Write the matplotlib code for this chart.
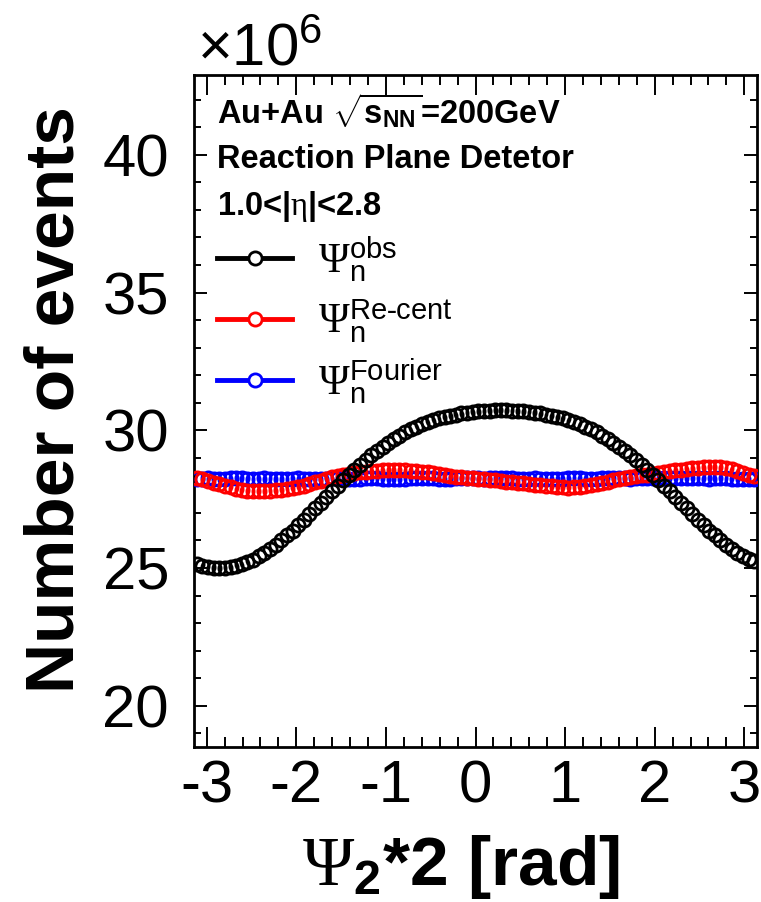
import matplotlib
matplotlib.use("Agg")
import matplotlib.pyplot as plt
import numpy as np
from matplotlib.ticker import MultipleLocator
from matplotlib.lines import Line2D

plt.rcParams["font.family"] = ["Liberation Sans", "DejaVu Sans"]
plt.rcParams["mathtext.fontset"] = "custom"
plt.rcParams["mathtext.rm"] = "Liberation Serif"
plt.rcParams["mathtext.sf"] = "Liberation Sans"
plt.rcParams["mathtext.bf"] = "Liberation Sans:bold"
plt.rcParams["mathtext.it"] = "Liberation Serif:italic"
plt.rcParams["axes.unicode_minus"] = False

# 100 bins in Psi_2*2 from -pi to pi, counts in units of 10^6
n_bins = 100

psi_obs = [25.16, 25.08, 25.03, 25.00, 24.99, 25.00, 25.03, 25.07, 25.13, 25.21,
           25.30, 25.42, 25.54, 25.69, 25.84, 26.00, 26.18, 26.36, 26.56, 26.75,
           26.95, 27.16, 27.36, 27.57, 27.78, 27.98, 28.18, 28.38, 28.57, 28.75,
           28.93, 29.10, 29.26, 29.41, 29.55, 29.68, 29.81, 29.92, 30.03, 30.13,
           30.21, 30.29, 30.36, 30.43, 30.48, 30.53, 30.57, 30.61, 30.64, 30.67,
           30.69, 30.70, 30.71, 30.72, 30.72, 30.72, 30.71, 30.70, 30.69, 30.67,
           30.64, 30.61, 30.57, 30.53, 30.48, 30.43, 30.36, 30.29, 30.21, 30.13,
           30.03, 29.92, 29.81, 29.68, 29.55, 29.41, 29.26, 29.10, 28.93, 28.75,
           28.57, 28.38, 28.18, 27.98, 27.78, 27.57, 27.36, 27.16, 26.95, 26.75,
           26.56, 26.36, 26.18, 26.00, 25.84, 25.69, 25.55, 25.44, 25.34, 25.27]

psi_recent = [28.27, 28.22, 28.16, 28.10, 28.04, 27.98, 27.93, 27.88, 27.84, 27.81,
              27.80, 27.79, 27.79, 27.80, 27.82, 27.84, 27.87, 27.90, 27.94, 27.99,
              28.05, 28.11, 28.17, 28.23, 28.29, 28.34, 28.38, 28.42, 28.45, 28.48,
              28.50, 28.52, 28.53, 28.54, 28.55, 28.55, 28.55, 28.54, 28.53, 28.51,
              28.49, 28.47, 28.44, 28.41, 28.38, 28.35, 28.32, 28.29, 28.27, 28.25,
              28.24, 28.22, 28.20, 28.18, 28.16, 28.14, 28.12, 28.10, 28.08, 28.06,
              28.03, 28.00, 27.98, 27.96, 27.94, 27.93, 27.92, 27.93, 27.94, 27.96,
              28.00, 28.04, 28.09, 28.14, 28.18, 28.22, 28.26, 28.30, 28.33, 28.36,
              28.39, 28.42, 28.45, 28.48, 28.51, 28.54, 28.57, 28.60, 28.62, 28.64,
              28.66, 28.67, 28.67, 28.66, 28.63, 28.59, 28.53, 28.46, 28.39, 28.33]

psi_fourier = [28.23, 28.24, 28.25, 28.24, 28.23, 28.24, 28.25, 28.26, 28.25, 28.24,
               28.23, 28.24, 28.25, 28.24, 28.23, 28.22, 28.23, 28.24, 28.25, 28.24,
               28.23, 28.22, 28.23, 28.24, 28.25, 28.26, 28.25, 28.24, 28.23, 28.24,
               28.25, 28.26, 28.25, 28.24, 28.23, 28.22, 28.23, 28.24, 28.25, 28.26,
               28.27, 28.26, 28.25, 28.24, 28.23, 28.24, 28.25, 28.26, 28.27, 28.26,
               28.25, 28.24, 28.25, 28.26, 28.27, 28.26, 28.25, 28.24, 28.23, 28.24,
               28.25, 28.24, 28.23, 28.22, 28.23, 28.24, 28.25, 28.26, 28.25, 28.24,
               28.23, 28.24, 28.25, 28.26, 28.27, 28.26, 28.25, 28.24, 28.25, 28.26,
               28.27, 28.28, 28.27, 28.26, 28.25, 28.26, 28.27, 28.28, 28.27, 28.26,
               28.25, 28.24, 28.25, 28.26, 28.25, 28.24, 28.23, 28.24, 28.23, 28.22]

labels = [r"$\Psi_{\mathsf{n}}^{\mathsf{obs}}$",
          r"$\Psi_{\mathsf{n}}^{\mathsf{Re\text{-}cent}}$",
          r"$\Psi_{\mathsf{n}}^{\mathsf{Fourier}}$"]
colors = ["black", "red", "blue"]

edges = np.linspace(-np.pi, np.pi, n_bins + 1)
centers = 0.5 * (edges[:-1] + edges[1:])

fig = plt.figure(figsize=(7.61, 9.02), dpi=100)
ax = fig.add_axes([194 / 761, 1 - 747 / 902, 563 / 761, 672 / 902])

series = [psi_obs, psi_recent, psi_fourier]
zs = [5, 4, 3]
for vals, c, z in zip(series, colors, zs):
    ax.plot(centers, vals, ls="none", marker="o", ms=9.5, mfc="none",
            mec=c, mew=2.0, zorder=z)

ax.set_xlim(-np.pi, np.pi)
ax.set_ylim(18.5, 42.9)

ax.xaxis.set_major_locator(MultipleLocator(1))
ax.xaxis.set_minor_locator(MultipleLocator(0.2))
ax.yaxis.set_major_locator(MultipleLocator(5))
ax.yaxis.set_minor_locator(MultipleLocator(1))
ax.tick_params(axis="both", which="both", direction="in", top=True, right=True,
               width=1.4, color="black")
ax.tick_params(axis="x", which="major", length=14.5, pad=9, labelsize=43)
ax.tick_params(axis="x", which="minor", length=7.5)
ax.tick_params(axis="y", which="major", length=9.5, pad=18, labelsize=43)
ax.tick_params(axis="y", which="minor", length=5)
for s in ax.spines.values():
    s.set_linewidth(2)

fig.text(56 / 761, 1 - 400 / 902, "Number of events", rotation=90,
         ha="center", va="center", fontsize=50, fontweight="bold")
fig.text(461 / 761, 1 - 885 / 902, r"$\Psi_{\mathbf{2}}$*2 [rad]",
         ha="center", va="baseline", fontsize=50, fontweight="bold")
fig.text(197 / 761, 1 - 65 / 902, r"$\mathsf{\times10^{6}}$",
         ha="left", va="baseline", fontsize=43)

ax.text(0.041, 0.9286, r"Au+Au $\sqrt{\mathbf{s}_{\mathbf{NN}}}$=200GeV",
        transform=ax.transAxes, fontsize=23.5, fontweight="bold", va="baseline")
ax.text(0.041, 0.8616, "Reaction Plane Detetor",
        transform=ax.transAxes, fontsize=23.5, fontweight="bold", va="baseline")
ax.text(0.041, 0.7917, r"1.0<|$\mathrm{\eta}$|<2.8",
        transform=ax.transAxes, fontsize=23.5, fontweight="bold", va="baseline")

handles = [Line2D([], [], color=c, lw=3.5, marker="o", ms=9.5, mfc="white",
                  mec=c, mew=2.0) for c in colors]
ax.legend(handles, labels, loc="upper left", bbox_to_anchor=(0.041, 0.761),
          frameon=False, fontsize=30, handlelength=1.8, handletextpad=0.62,
          labelspacing=0.31, borderpad=0, borderaxespad=0, numpoints=1)

fig.savefig("out.png", dpi=100)
